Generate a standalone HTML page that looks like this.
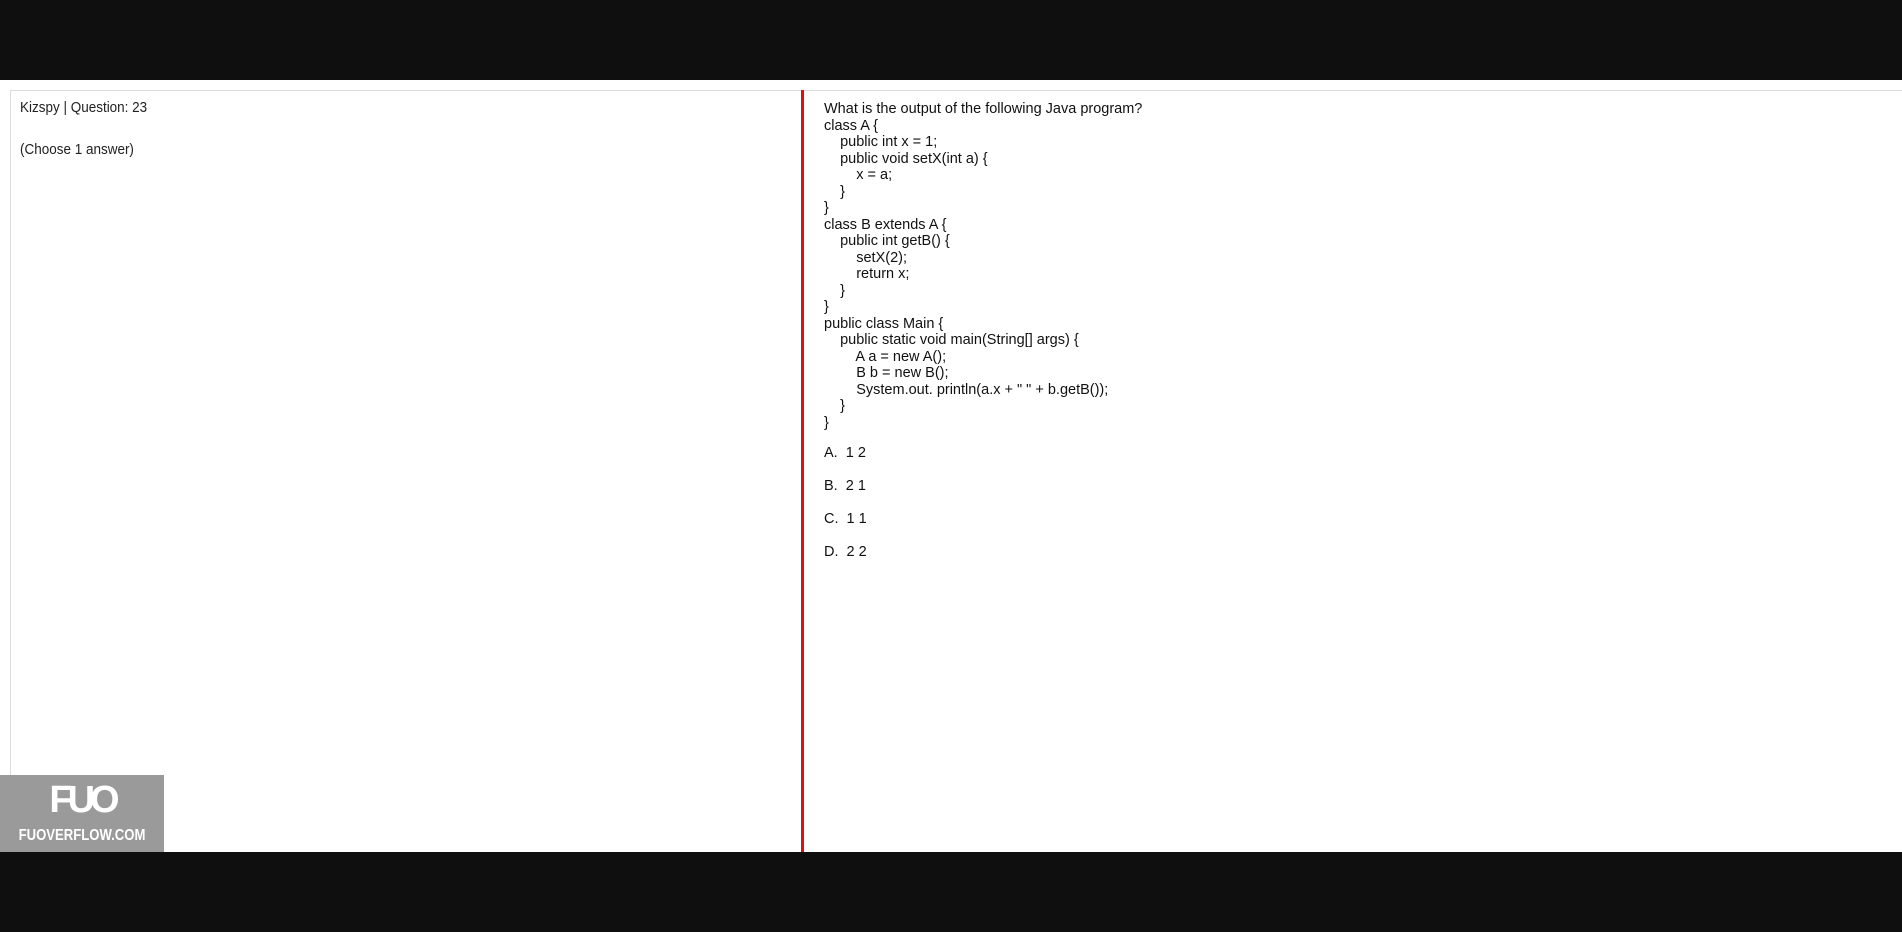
<!DOCTYPE html>
<html><head><meta charset="utf-8"><style>
html,body{margin:0;padding:0;width:1902px;height:932px;overflow:hidden;background:#0f0f0f;position:relative}
.panel{position:absolute;left:10px;top:90px;width:1892px;height:762px;background:#fff;border-top:1px solid #dcdcdc;border-left:1px solid #dcdcdc;box-sizing:border-box}
.white{position:absolute;left:0;top:80px;width:1902px;height:772px;background:#fff}
.red{position:absolute;left:801px;top:90px;width:3px;height:762px;background:#e01010}
.l{position:absolute;font-family:"Liberation Sans",sans-serif;font-size:14.5px;color:#222;white-space:pre;transform-origin:0 0;transform:scaleX(0.93)}
.c{position:absolute;left:824px;font-family:"Liberation Sans",sans-serif;font-size:14.5px;color:#111;white-space:pre;line-height:16.5px;top:101px}
.o{position:absolute;left:824px;font-family:"Liberation Sans",sans-serif;font-size:14.5px;color:#111;white-space:pre}
.logo{position:absolute;left:0;top:775px;width:164px;height:77px;background:#9a9a9a}
.logo .a{position:absolute;left:0;width:164px;text-align:center;top:4px;font-family:"Liberation Sans",sans-serif;font-weight:bold;font-size:38px;color:#fff;letter-spacing:-5px}
.logo .b{position:absolute;left:0;width:164px;text-align:center;top:52px;font-family:"Liberation Sans",sans-serif;font-weight:bold;font-size:16px;color:#fff;transform:scaleX(0.82)}
</style></head><body>
<div class="white"></div>
<div class="panel"></div>
<div class="red"></div>
<div class="l" style="left:20px;top:100px">Kizspy | Question: 23</div>
<div class="l" style="left:20px;top:142px">(Choose 1 answer)</div>
<div class="c">What is the output of the following Java program?
class A {
    public int x = 1;
    public void setX(int a) {
        x = a;
    }
}
class B extends A {
    public int getB() {
        setX(2);
        return x;
    }
}
public class Main {
    public static void main(String[] args) {
        A a = new A();
        B b = new B();
        System.out. println(a.x + " " + b.getB());
    }
}</div>
<div class="o" style="top:445px">A.  1 2</div>
<div class="o" style="top:478px">B.  2 1</div>
<div class="o" style="top:511px">C.  1 1</div>
<div class="o" style="top:544px">D.  2 2</div>
<div class="logo"><div class="a">FUO</div><div class="b">FUOVERFLOW.COM</div></div>
</body></html>
